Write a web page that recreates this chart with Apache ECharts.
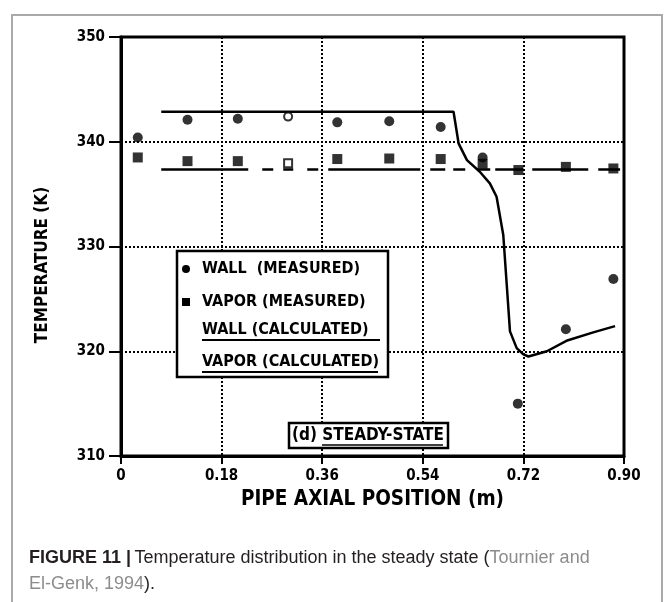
<!DOCTYPE html>
<html>
<head>
<meta charset="utf-8">
<script src="https://cdn.jsdelivr.net/npm/echarts@6/dist/echarts.min.js"></script>
<style>
  html, body { margin: 0; padding: 0; background: #fff; }
  #chart { width: 664px; height: 602px; }
</style>
</head>
<body>
<div id="chart"></div>
<script>
// Axial positions (m) of the thermocouples
const wallMeasX = [0.030, 0.119, 0.209, 0.299, 0.387, 0.480, 0.572, 0.647, 0.710, 0.796, 0.881];
// Measured wall temperatures (K)
const wallMeasT = [340.4, 342.1, 342.2, 342.4, 341.85, 341.95, 341.4, 338.5, 315.0, 322.1, 326.9];
const vapMeasX = [0.030, 0.119, 0.209, 0.299, 0.387, 0.480, 0.572, 0.647, 0.711, 0.796, 0.881];
// Measured vapor temperatures (K)
const vapMeasT = [338.5, 338.15, 338.15, 337.95, 338.35, 338.4, 338.35, 337.9, 337.3, 337.6, 337.45];
// Points drawn as open symbols
const openMarks = [3];

// Calculated wall temperature profile
const wallCalcX = [0.072, 0.595, 0.604, 0.619, 0.642, 0.660, 0.672, 0.684, 0.690, 0.696, 0.708, 0.720, 0.729, 0.762, 0.797, 0.845, 0.884];
const wallCalcT = [342.86, 342.86, 339.85, 338.25, 337.14, 336.03, 334.75, 331.1, 326.5, 321.9, 320.3, 319.7, 319.5, 320.0, 321.0, 321.8, 322.4];
// Calculated vapor temperature profile
const vapCalcX = [0.072, 0.893];
const vapCalcT = [337.35, 337.35];

// Axis ranges and ticks
const xMin = 0, xMax = 0.9, xStep = 0.18;
const yMin = 310, yMax = 350, yStep = 10;

const legendLabels = ['WALL  (MEASURED)', 'VAPOR (MEASURED)', 'WALL (CALCULATED)', 'VAPOR (CALCULATED)'];
const panelLabel = '(d) STEADY-STATE';
const xTitle = 'PIPE AXIAL POSITION (m)';
const yTitle = 'TEMPERATURE (K)';

const COND = "'DejaVu Sans Condensed', 'Liberation Sans Narrow', 'DejaVu Sans', sans-serif";
const CAP = "'Liberation Sans', Arial, sans-serif";

function pairs(xs, ys) { return xs.map((x, i) => [x, ys[i]]); }
function measured(xs, ys) {
  return xs.map((x, i) => {
    const item = { value: [x, ys[i]] };
    if (openMarks.includes(i)) {
      item.itemStyle = { color: '#fff', borderColor: '#000', borderWidth: 2 };
      item.symbolSize = 8;
    }
    return item;
  });
}

const chart = echarts.init(document.getElementById('chart'), null, { renderer: 'canvas' });

const legendFont = 'bold 16px ' + COND;
const capSize = '18px ';

const option = {
  animation: false,
  backgroundColor: '#fff',
  grid: {
    left: 121, right: 40, top: 37, bottom: 146,
    show: true, borderColor: '#000', borderWidth: 3, backgroundColor: 'transparent'
  },
  xAxis: {
    type: 'value', min: xMin, max: xMax, interval: xStep,
    axisLine: { lineStyle: { color: '#000', width: 3 } },
    axisTick: { length: 8, lineStyle: { color: '#000', width: 2 } },
    axisLabel: {
      color: '#000', fontFamily: COND, fontWeight: 'bold', fontSize: 15, margin: 13,
      formatter: v => (Math.abs(v) < 1e-9 ? '0' : v.toFixed(2))
    },
    splitLine: { show: true, lineStyle: { color: '#000', width: 2, type: [2, 2] } },
    name: xTitle, nameLocation: 'middle', nameGap: 33,
    nameTextStyle: { color: '#000', fontFamily: COND, fontWeight: 'bold', fontSize: 20.5 }
  },
  yAxis: {
    type: 'value', min: yMin, max: yMax, interval: yStep,
    axisLine: { lineStyle: { color: '#000', width: 3 } },
    axisTick: { length: 12, lineStyle: { color: '#000', width: 2 } },
    axisLabel: { color: '#000', fontFamily: COND, fontWeight: 'bold', fontSize: 15, margin: 16 },
    splitLine: { show: true, lineStyle: { color: '#000', width: 2, type: [2, 2] } }
  },
  series: [
    {
      name: 'Wall calculated', type: 'line', data: pairs(wallCalcX, wallCalcT),
      showSymbol: false, symbol: 'none', z: 3,
      lineStyle: { color: '#000', width: 2.5 }
    },
    {
      name: 'Vapor calculated', type: 'line', data: pairs(vapCalcX, vapCalcT),
      showSymbol: false, symbol: 'none', z: 3,
      lineStyle: { color: '#000', width: 2.5,
        type: [87, 14, 11, 10, 10, 14, 11, 10, 92, 10, 15, 8, 12, 12, 13, 5, 28, 9, 56, 10, 22, 100] }
    },
    {
      name: 'Wall measured', type: 'scatter', data: measured(wallMeasX, wallMeasT),
      symbol: 'circle', symbolSize: 10, z: 4,
      itemStyle: { color: '#000' }
    },
    {
      name: 'Vapor measured', type: 'scatter', data: measured(vapMeasX, vapMeasT),
      symbol: 'rect', symbolSize: 10, z: 4,
      itemStyle: { color: '#000' }
    }
  ],
  graphic: [
    // figure frame
    { type: 'polyline', z: 1, shape: { points: [[12, 602], [12, 15], [662, 15], [662, 602]] },
      style: { stroke: '#a9a9a9', lineWidth: 2, fill: null } },
    // vertical axis title
    { type: 'text', z: 101, x: 43, y: 265, rotation: Math.PI / 2,
      style: { text: yTitle, font: 'bold 17px ' + COND, fill: '#000', align: 'center', verticalAlign: 'middle' } },
    // legend box
    { type: 'rect', z: 100, shape: { x: 177, y: 251, width: 211, height: 126 },
      style: { fill: '#fff', stroke: '#000', lineWidth: 2.5 } },
    { type: 'circle', z: 101, shape: { cx: 186, cy: 269, r: 4 }, style: { fill: '#000' } },
    { type: 'rect', z: 101, shape: { x: 182, y: 298, width: 8, height: 8 }, style: { fill: '#000' } },
    { type: 'text', z: 101, x: 202, y: 269,
      style: { text: legendLabels[0], font: legendFont, fill: '#000', verticalAlign: 'middle' } },
    { type: 'text', z: 101, x: 202, y: 302,
      style: { text: legendLabels[1], font: legendFont, fill: '#000', verticalAlign: 'middle' } },
    { type: 'text', z: 101, x: 202, y: 330,
      style: { text: legendLabels[2], font: legendFont, fill: '#000', verticalAlign: 'middle' } },
    { type: 'line', z: 101, shape: { x1: 202, y1: 340, x2: 380, y2: 340 }, style: { stroke: '#000', lineWidth: 2 } },
    { type: 'text', z: 101, x: 202, y: 362,
      style: { text: legendLabels[3], font: legendFont, fill: '#000', verticalAlign: 'middle' } },
    { type: 'line', z: 101, shape: { x1: 202, y1: 372, x2: 378, y2: 372 }, style: { stroke: '#000', lineWidth: 2 } },
    // panel label box
    { type: 'rect', z: 100, shape: { x: 289, y: 423, width: 159, height: 25 },
      style: { fill: '#fff', stroke: '#000', lineWidth: 2.5 } },
    { type: 'text', z: 101, x: 368, y: 436,
      style: { text: panelLabel, font: 'bold 17px ' + COND, fill: '#000', align: 'center', verticalAlign: 'middle' } },
    { type: 'line', z: 101, shape: { x1: 322, y1: 445, x2: 443, y2: 445 }, style: { stroke: '#000', lineWidth: 1.5 } },
    // caption
    { type: 'text', z: 101, x: 29, y: 558,
      style: {
        text: '{b|FIGURE 11 |} {n|Temperature distribution in the steady state (}{g|Tournier and}',
        verticalAlign: 'middle',
        rich: {
          b: { font: 'bold ' + capSize + CAP, fill: '#231f20' },
          n: { font: capSize + CAP, fill: '#231f20' },
          g: { font: capSize + CAP, fill: '#8c8c8c' }
        }
      } },
    { type: 'text', z: 101, x: 29, y: 584,
      style: {
        text: '{g|El-Genk, 1994}{n|).}',
        verticalAlign: 'middle',
        rich: {
          n: { font: capSize + CAP, fill: '#231f20' },
          g: { font: capSize + CAP, fill: '#8c8c8c' }
        }
      } }
  ]
};

chart.setOption(option);
</script>
</body>
</html>
